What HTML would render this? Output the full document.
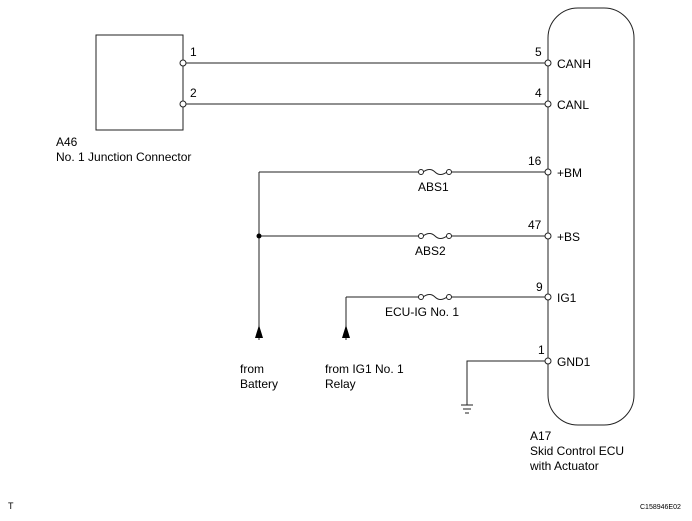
<html><body style="margin:0;background:#fff">
<svg width="692" height="521" xmlns="http://www.w3.org/2000/svg" font-family="Liberation Sans, sans-serif" font-size="12" fill="#000">
<g stroke="#222" stroke-width="1" fill="none">
<rect x="96" y="35" width="87" height="95"/>
<rect x="548" y="8" width="86" height="417" rx="30"/>
<line x1="183" y1="63" x2="548" y2="63"/>
<line x1="183" y1="104" x2="548" y2="104"/>
<line x1="259" y1="172" x2="420" y2="172"/><line x1="450" y1="172" x2="548" y2="172"/>
<line x1="259" y1="236" x2="420" y2="236"/><line x1="450" y1="236" x2="548" y2="236"/>
<line x1="346" y1="297" x2="420" y2="297"/><line x1="450" y1="297" x2="548" y2="297"/>
<path d="M423,172 q7,-5 12,0 q5,5 12,0"/>
<path d="M423,236 q7,-5 12,0 q5,5 12,0"/>
<path d="M423,297 q7,-5 12,0 q5,5 12,0"/>
<line x1="259" y1="172" x2="259" y2="340"/>
<line x1="346" y1="297" x2="346" y2="340"/>
<polyline points="548,361 467,361 467,405"/>
<line x1="461" y1="405" x2="473" y2="405"/><line x1="463" y1="409" x2="471" y2="409"/><line x1="465" y1="413" x2="469" y2="413"/>
</g>
<g fill="#fff" stroke="#222">
<circle cx="183" cy="63" r="3"/><circle cx="183" cy="104" r="3"/>
<circle cx="548" cy="63" r="3"/><circle cx="548" cy="104" r="3"/><circle cx="548" cy="172" r="3"/><circle cx="548" cy="236" r="3"/><circle cx="548" cy="297" r="3"/><circle cx="548" cy="361" r="3"/>
<circle cx="421" cy="172" r="2.5"/><circle cx="449" cy="172" r="2.5"/>
<circle cx="421" cy="236" r="2.5"/><circle cx="449" cy="236" r="2.5"/>
<circle cx="421" cy="297" r="2.5"/><circle cx="449" cy="297" r="2.5"/>
</g>
<circle cx="259" cy="236" r="2.5"/>
<polygon points="255,338 259,325 263,338"/><polygon points="342,338 346,325 350,338"/>
<text x="190" y="56">1</text><text x="190" y="97">2</text>
<text x="535" y="56">5</text><text x="535" y="97">4</text><text x="528" y="165">16</text><text x="528" y="229">47</text><text x="536" y="291">9</text><text x="538" y="354">1</text>
<text x="557" y="68">CANH</text><text x="557" y="109">CANL</text><text x="557" y="177">+BM</text><text x="557" y="241">+BS</text><text x="557" y="302">IG1</text><text x="557" y="366">GND1</text>
<text x="418" y="191">ABS1</text><text x="415" y="255">ABS2</text><text x="385" y="316">ECU-IG No. 1</text>
<text x="56" y="146">A46</text><text x="56" y="161">No. 1 Junction Connector</text>
<text x="240" y="373">from</text><text x="240" y="388">Battery</text>
<text x="325" y="373">from IG1 No. 1</text><text x="325" y="388">Relay</text>
<text x="530" y="440">A17</text><text x="530" y="455">Skid Control ECU</text><text x="530" y="470">with Actuator</text>
<text x="8" y="509" font-size="9">T</text><text x="640" y="509" font-size="7">C158946E02</text>
</svg>
</body></html>
